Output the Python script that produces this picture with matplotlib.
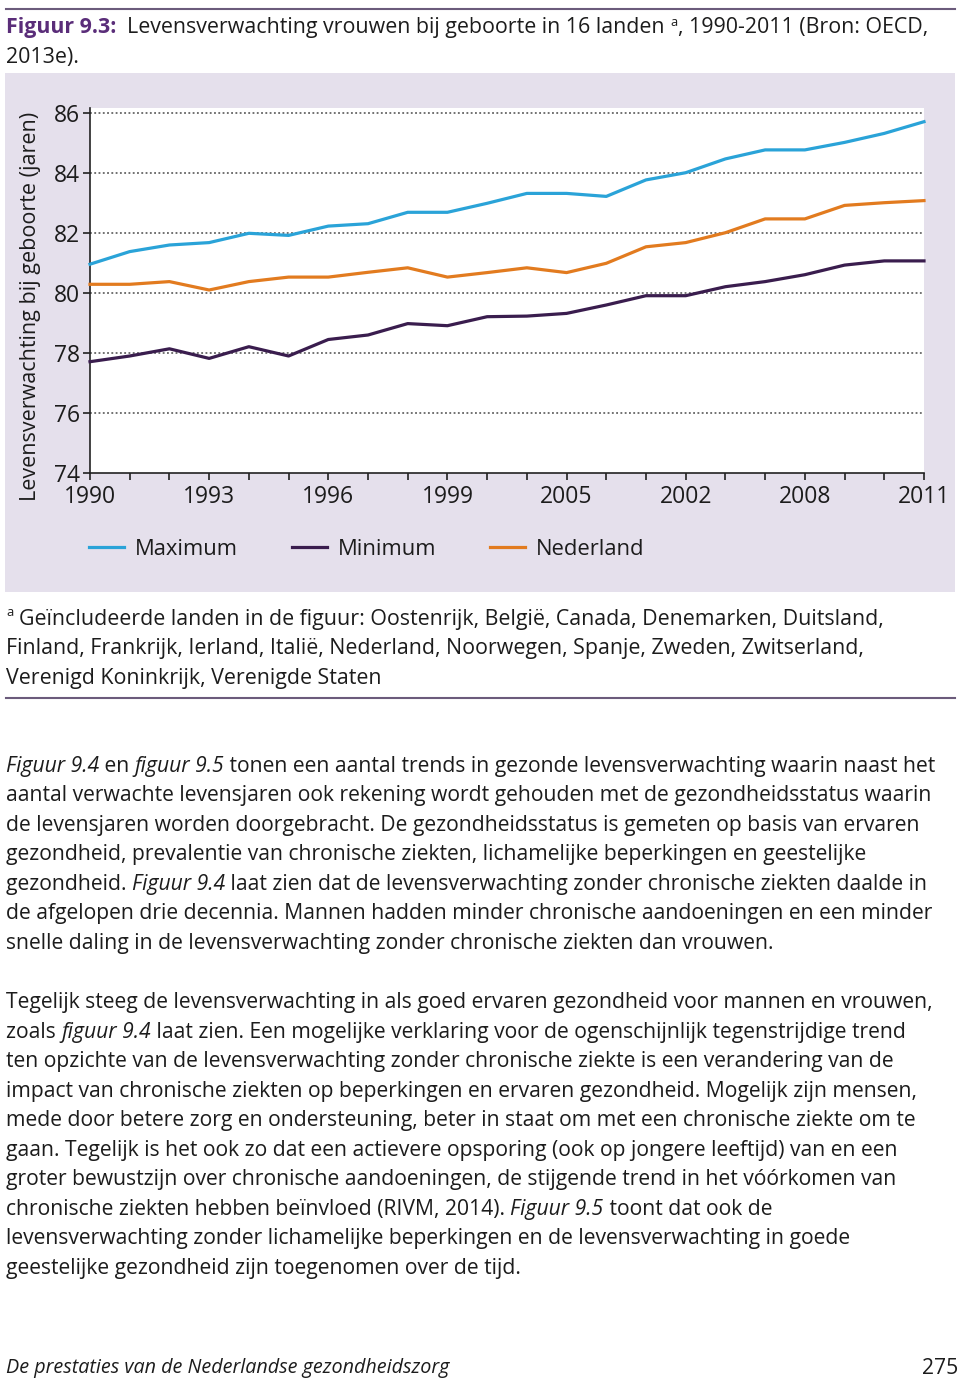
import matplotlib
matplotlib.use("Agg")
import matplotlib.pyplot as plt
from matplotlib.lines import Line2D
from matplotlib.patches import Rectangle

# ---------------- data ----------------
years = list(range(1990, 2012))
maximum = [80.95, 81.37, 81.59, 81.67, 81.98, 81.91, 82.22, 82.30, 82.68, 82.68, 82.98,
           83.31, 83.31, 83.21, 83.76, 84.00, 84.46, 84.76, 84.76, 85.01, 85.31, 85.70]
minimum = [77.70, 77.89, 78.13, 77.81, 78.20, 77.89, 78.44, 78.59, 78.97, 78.90, 79.20,
           79.22, 79.31, 79.59, 79.90, 79.90, 80.20, 80.37, 80.60, 80.92, 81.06, 81.06]
nederland = [80.28, 80.28, 80.37, 80.09, 80.37, 80.52, 80.52, 80.68, 80.83, 80.52, 80.67,
             80.83, 80.67, 80.98, 81.53, 81.67, 82.00, 82.46, 82.46, 82.91, 83.00, 83.07]
series_names = ["Maximum", "Minimum", "Nederland"]
xtick_positions = years[::3]
xtick_labels = ["1990", "1993", "1996", "1999", "2005", "2002", "2008", "2011"]
yticks = [74, 76, 78, 80, 82, 84, 86]
ylabel = "Levensverwachting bij geboorte (jaren)"

title_bold = "Figuur 9.3:"
title_rest1 = "  Levensverwachting vrouwen bij geboorte in 16 landen "
title_rest2 = ", 1990-2011 (Bron: OECD,"
title_line2 = "2013e)."

footnote_lines = [
    "Geïncludeerde landen in de figuur: Oostenrijk, België, Canada, Denemarken, Duitsland,",
    "Finland, Frankrijk, Ierland, Italië, Nederland, Noorwegen, Spanje, Zweden, Zwitserland,",
    "Verenigd Koninkrijk, Verenigde Staten",
]

para1 = [
    [("Figuur 9.4", True), (" en ", False), ("figuur 9.5", True),
     (" tonen een aantal trends in gezonde levensverwachting waarin naast het", False)],
    [("aantal verwachte levensjaren ook rekening wordt gehouden met de gezondheidsstatus waarin", False)],
    [("de levensjaren worden doorgebracht. De gezondheidsstatus is gemeten op basis van ervaren", False)],
    [("gezondheid, prevalentie van chronische ziekten, lichamelijke beperkingen en geestelijke", False)],
    [("gezondheid. ", False), ("Figuur 9.4", True),
     (" laat zien dat de levensverwachting zonder chronische ziekten daalde in", False)],
    [("de afgelopen drie decennia. Mannen hadden minder chronische aandoeningen en een minder", False)],
    [("snelle daling in de levensverwachting zonder chronische ziekten dan vrouwen.", False)],
]
para2 = [
    [("Tegelijk steeg de levensverwachting in als goed ervaren gezondheid voor mannen en vrouwen,", False)],
    [("zoals ", False), ("figuur 9.4", True),
     (" laat zien. Een mogelijke verklaring voor de ogenschijnlijk tegenstrijdige trend", False)],
    [("ten opzichte van de levensverwachting zonder chronische ziekte is een verandering van de", False)],
    [("impact van chronische ziekten op beperkingen en ervaren gezondheid. Mogelijk zijn mensen,", False)],
    [("mede door betere zorg en ondersteuning, beter in staat om met een chronische ziekte om te", False)],
    [("gaan. Tegelijk is het ook zo dat een actievere opsporing (ook op jongere leeftijd) van en een", False)],
    [("groter bewustzijn over chronische aandoeningen, de stijgende trend in het vóórkomen van", False)],
    [("chronische ziekten hebben beïnvloed (RIVM, 2014). ", False), ("Figuur 9.5", True),
     (" toont dat ook de", False)],
    [("levensverwachting zonder lichamelijke beperkingen en de levensverwachting in goede", False)],
    [("geestelijke gezondheid zijn toegenomen over de tijd.", False)],
]
footer_left = "De prestaties van de Nederlandse gezondheidszorg"
footer_right = "275"

# ---------------- style ----------------
W, H = 960, 1381
FONT = ["Open Sans", "Noto Sans", "DejaVu Sans"]
plt.rcParams["font.family"] = FONT
C_MAX = "#2aa3d8"
C_MIN = "#3a1d4e"
C_NL = "#e27b1f"
C_PANEL = "#e5e0ec"
C_RULE = "#6b5b7b"
C_TXT = "#1c1c1c"
C_TITLE = "#5a2d79"

fig = plt.figure(figsize=(W / 100, H / 100), dpi=100)
renderer = fig.canvas.get_renderer()


def fx(x):
    return x / W


def fy(y):
    return 1 - y / H


def measure(text, size, italic=False, weight="normal"):
    t = fig.text(0, 0, "|" + text + "|", fontsize=size,
                 style="italic" if italic else "normal", weight=weight)
    w1 = t.get_window_extent(renderer).width
    t.set_text("||")
    w0 = t.get_window_extent(renderer).width
    t.remove()
    return w1 - w0


def line_width(segs, size):
    return sum(measure(s, size, it) for s, it in segs)


def draw_segs(segs, x, y, size, color=C_TXT):
    for s, it in segs:
        fig.text(fx(x), fy(y), s, fontsize=size, style="italic" if it else "normal",
                 color=color, ha="left", va="baseline")
        x += measure(s, size, it)
    return x


# rules
fig.add_artist(Line2D([fx(6), fx(955)], [fy(8.5), fy(8.5)], color=C_RULE, lw=1.5))
fig.add_artist(Line2D([fx(6), fx(955)], [fy(698), fy(698)], color=C_RULE, lw=1.5))

# panel
fig.add_artist(Rectangle((fx(5), fy(591.5)), fx(955) - fx(5), fy(73) - fy(591.5),
                         facecolor=C_PANEL, edgecolor="none", zorder=0))

# ---------------- title ----------------
ref = measure(title_bold, 10, weight="bold") + measure(title_rest1, 10) + \
    measure("a", 6) + measure(title_rest2, 10)
ts = 10 * 919 / ref
x = 6
fig.text(fx(x), fy(33.5), title_bold, fontsize=ts, weight="bold", color=C_TITLE,
         ha="left", va="baseline")
x += measure(title_bold, ts, weight="bold")
fig.text(fx(x), fy(33.5), title_rest1, fontsize=ts, color=C_TXT, ha="left", va="baseline")
x += measure(title_rest1, ts)
fig.text(fx(x), fy(25.5), "a", fontsize=ts * 0.6, color=C_TXT, ha="left", va="baseline")
x += measure("a", ts * 0.6)
fig.text(fx(x), fy(33.5), title_rest2, fontsize=ts, color=C_TXT, ha="left", va="baseline")
fig.text(fx(6), fy(63.5), title_line2, fontsize=ts, color=C_TXT, ha="left", va="baseline")

# ---------------- chart ----------------
top_px, bot_px, left_px, right_px = 108, 472.7, 90, 924
ax = fig.add_axes([fx(left_px), fy(bot_px), fx(right_px) - fx(left_px), fy(top_px) - fy(bot_px)])
ax.set_facecolor("white")
ytop = 74 + 12 * (bot_px - top_px) / 360.0
ax.set_ylim(74, ytop)
ax.set_xlim(years[0], years[-1])

for vals, c, name in [(maximum, C_MAX, series_names[0]), (minimum, C_MIN, series_names[1]),
                      (nederland, C_NL, series_names[2])]:
    ax.plot(years, vals, color=c, lw=2.3, label=name, clip_on=False, zorder=3,
            solid_joinstyle="round")

ax.set_yticks(yticks)
ax.set_yticklabels([str(v) for v in yticks])
ax.set_xticks(years, minor=True)
ax.set_xticks(xtick_positions)
ax.set_xticklabels(xtick_labels)
for yv in yticks[1:]:
    ax.axhline(yv, color="#4a4a4a", lw=1.1, ls=(0, (1.2, 1.6)), zorder=1)

for sp in ["top", "right"]:
    ax.spines[sp].set_visible(False)
for sp in ["left", "bottom"]:
    ax.spines[sp].set_color("#222222")
    ax.spines[sp].set_linewidth(1.2)
ax.tick_params(axis="both", which="both", direction="out", color="#222222", width=1.2)
ax.tick_params(axis="x", which="both", length=5, pad=4)
ax.tick_params(axis="y", length=5, pad=2)
ax.tick_params(labelsize=16.5, labelcolor=C_TXT)

# y label
yl = fig.text(fx(31), fy(306), ylabel, rotation=90, ha="center", va="center",
              fontsize=10, color=C_TXT)
lw_ = measure(ylabel, 10)
yl.set_fontsize(10 * 387 / lw_)

# legend
handles = [Line2D([], [], color=c, lw=2.3) for c in (C_MAX, C_MIN, C_NL)]
fig.legend(handles, series_names, loc="center left", bbox_to_anchor=(fx(89), fy(549.5)),
           ncol=3, frameon=False, fontsize=15.8, handlelength=1.6, handletextpad=0.5,
           columnspacing=2.45, borderpad=0, borderaxespad=0, labelcolor=C_TXT)

# ---------------- footnote ----------------
fref = measure("a", 6) + measure(" " + footnote_lines[0], 10)
fs = 10 * 880 / fref
fig.text(fx(6), fy(616), "a", fontsize=fs * 0.6, color=C_TXT, ha="left", va="baseline")
x0 = 6 + measure("a", fs * 0.6) + measure(" ", fs)
fig.text(fx(x0), fy(624.5), footnote_lines[0], fontsize=fs, color=C_TXT, ha="left", va="baseline")
for i, ln in enumerate(footnote_lines[1:], start=1):
    fig.text(fx(6), fy(624.5 + 29.6 * i), ln, fontsize=fs, color=C_TXT, ha="left", va="baseline")

# ---------------- body ----------------
bs = 10 * 932 / line_width(para1[0], 10)
for i, segs in enumerate(para1):
    draw_segs(segs, 6, 771.7 + 29.55 * i, bs)
for i, segs in enumerate(para2):
    draw_segs(segs, 6, 1008 + 29.55 * i, bs)

# ---------------- footer ----------------
ffs = 10 * 444 / measure(footer_left, 10, True)
fig.text(fx(6), fy(1373.5), footer_left, fontsize=ffs, style="italic", color=C_TXT,
         ha="left", va="baseline")
fig.text(fx(958), fy(1373.5), footer_right, fontsize=bs, color=C_TXT, ha="right", va="baseline")

fig.savefig("out.png", dpi=100)
